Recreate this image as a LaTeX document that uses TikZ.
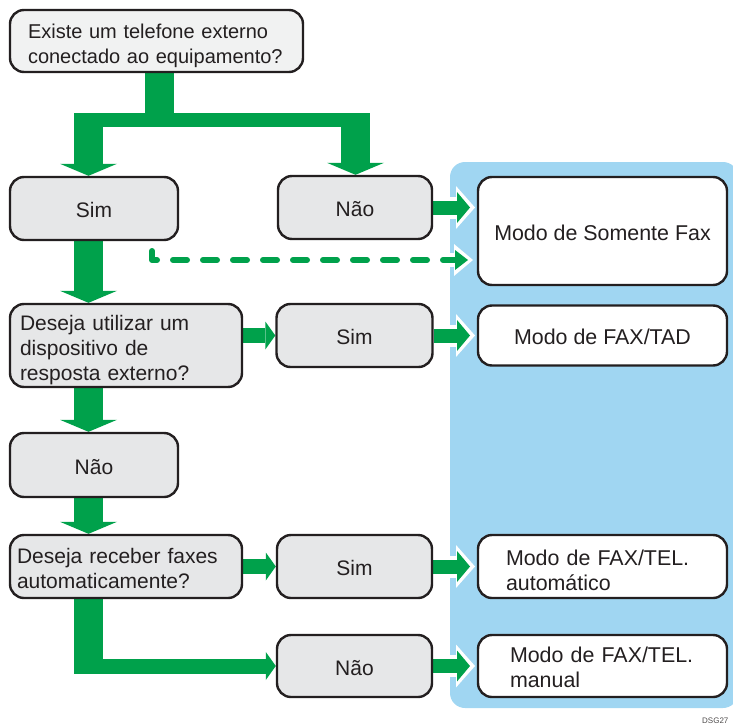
\documentclass[tikz,border=0pt]{standalone}
\usepackage{fontspec}
\setmainfont{Liberation Sans}
\usetikzlibrary{arrows.meta,calc}
\definecolor{gr}{HTML}{00A14B}
\definecolor{bl}{HTML}{A0D6F2}
\definecolor{bx}{HTML}{E6E7E8}
\definecolor{bxl}{HTML}{F1F2F2}
\definecolor{ink}{HTML}{231F20}
\newcommand\fsA{\fontsize{21}{25}\selectfont}
\newcommand\fsB{\fontsize{20}{25}\selectfont}
\newcommand\fsC{\fontsize{21.4}{25}\selectfont}
\pgfdeclarelayer{bglayer}
\pgfdeclarelayer{midlayer}
\pgfsetlayers{bglayer,midlayer,main}
\tikzset{
  box/.style={draw=ink, line width=2.4pt, rounded corners=14pt, fill=bx, inner sep=0pt, font=\fsA, text=ink, align=center},
  wbox/.style={box, fill=white, font=\fsC},
  one/.style={text height=18pt, text depth=0pt},
  sz/.style 2 args={minimum width=#1pt, minimum height=#2pt},
  lbox/.style 2 args={inner xsep=#1pt, text width=#2pt, align=left},
  down/.style={execute at begin node={\rule{0pt}{#1pt}}},
  varrow/.style={draw=gr, line width=29pt, -{Triangle[width=57pt,length=12pt,line width=0pt]}},
  vbar/.style={draw=gr, line width=29pt},
  hbar/.style={draw=gr, line width=14pt},
  harrow/.style={draw=gr, line width=15pt, -{Triangle[width=28pt,length=10pt,line width=0pt]}},
  rarrow/.style={draw=gr, line width=14pt, -{Triangle[width=31pt,length=13pt,line width=0pt]}},
  halo/.style={draw=white, line width=22pt, -{Triangle[width=43pt,length=19pt,line width=0pt]}},
  dhalo/.style={draw=white, line width=14pt, -{Triangle[width=32pt,length=19pt,line width=0pt]}},
  darrow/.style={draw=gr, line width=6pt, line cap=round, line join=round, dash pattern=on 14pt off 16pt, -{Triangle[width=20pt,length=13pt,line width=0pt]}},
}
\begin{document}
\begin{tikzpicture}[x=1pt,y=-1pt]
\clip (0,0) rectangle (733,725);
\useasboundingbox (0,0) rectangle (733,725);

% boxes
\path
  (156.5,41)  node[box, fill=bxl, font=\fsB, sz={293}{62}, lbox={18}{257}, down=24.5] (q1) {Existe um telefone externo\\conectado ao equipamento?}
  (94,208.5)  node[box, one, sz={168}{63}] (sim1) {Sim}
  (355,207.5) node[box, one, sz={154}{63}] (nao1) {Não}
  (602.5,231) node[wbox, one, sz={249}{108}] (som) {Modo de Somente Fax}
  (126,345.5) node[box, sz={232}{83}, lbox={10}{212}, down=24.5] (des) {Deseja utilizar um\\dispositivo de\\resposta externo?}
  (354.5,335.5) node[box, one, sz={156}{63}] (sim2) {Sim}
  (602.5,335.5) node[wbox, one, sz={249}{60}] (tad) {Modo de FAX/TAD}
  (94,465)    node[box, one, sz={168}{64}] (nao2) {Não}
  (126,566.5) node[box, sz={232}{63}, lbox={7}{218}, down=19.5] (rec) {Deseja receber faxes\\automaticamente?}
  (354.5,566.5) node[box, one, sz={155}{63}] (sim3) {Sim}
  (602.5,566.5) node[wbox, sz={249}{63}, lbox={28}{193}, down=22.5] (auto) {Modo de FAX/TEL.\\automático}
  (354.5,666) node[box, one, sz={155}{62}] (nao4) {Não}
  (602.5,666) node[wbox, sz={249}{62}, lbox={32}{185}, down=17.5] (man) {Modo de FAX/TEL.\\manual};

% helper coordinates
\coordinate (cL) at (88.5,0);
\coordinate (cR) at (355.5,0);
\coordinate (cS) at (159.5,0);
\coordinate (cT) at (0,127);
\coordinate (cU) at (0,113);
\coordinate (bL) at (74,120);
\coordinate (bR) at (370,120);
\coordinate (c0) at (74,0);
\coordinate (cbot) at (88.5,673.5);
\coordinate (d0) at (152,251);
\coordinate (d1) at (152,260);
\coordinate (tipx) at (470,0);
\coordinate (htipx) at (475,0);
\coordinate (hx) at (440,0);
\coordinate (dtipx) at (468,0);
\coordinate (dh0) at (450,260);
\coordinate (dh1) at (473,260);

\begin{pgfonlayer}{bglayer}
\fill[bl, rounded corners=15pt] (450,162) rectangle (738,708);
\end{pgfonlayer}

\begin{pgfonlayer}{midlayer}
% white halos in the blue panel
\draw[halo] (hx |- nao1.east) -- (htipx |- nao1.east);
\draw[halo] (hx |- sim2.east) -- (htipx |- sim2.east);
\draw[halo] (hx |- sim3.east) -- (htipx |- sim3.east);
\draw[halo] (hx |- nao4.east) -- (htipx |- nao4.east);
\draw[dhalo] (dh0) -- (dh1);

% green connectors
\draw[vbar] (cS |- q1.south) -- (cS |- cT);
\draw[hbar] (bL) -- (bR);
\draw[varrow] (cL |- cU) -- (cL |- sim1.north);
\draw[varrow] (cR |- cU) -- (cR |- nao1.north);
\draw[varrow] (cL |- sim1.south) -- (cL |- des.north);
\draw[varrow] (cL |- des.south) -- (cL |- nao2.north);
\draw[varrow] (cL |- nao2.south) -- (cL |- rec.north);
\draw[vbar] (cL |- rec.south) -- (cbot);
\draw[harrow] (c0 |- nao4.west) -- (nao4.west);
\draw[harrow] (des.east |- sim2.west) -- (sim2.west);
\draw[harrow] (rec.east |- sim3.west) -- (sim3.west);
\draw[rarrow] (nao1.east) -- (tipx |- nao1.east);
\draw[rarrow] (sim2.east) -- (tipx |- sim2.east);
\draw[rarrow] (sim3.east) -- (tipx |- sim3.east);
\draw[rarrow] (nao4.east) -- (tipx |- nao4.east);
\draw[darrow] (d0) -- (d1) -- (dtipx |- d1);
\end{pgfonlayer}

\node[anchor=base west, inner sep=0pt, font=\fontsize{8}{8}\selectfont, text=ink!80] (dsg) at (702,723) {DSG27};
\end{tikzpicture}
\end{document}
